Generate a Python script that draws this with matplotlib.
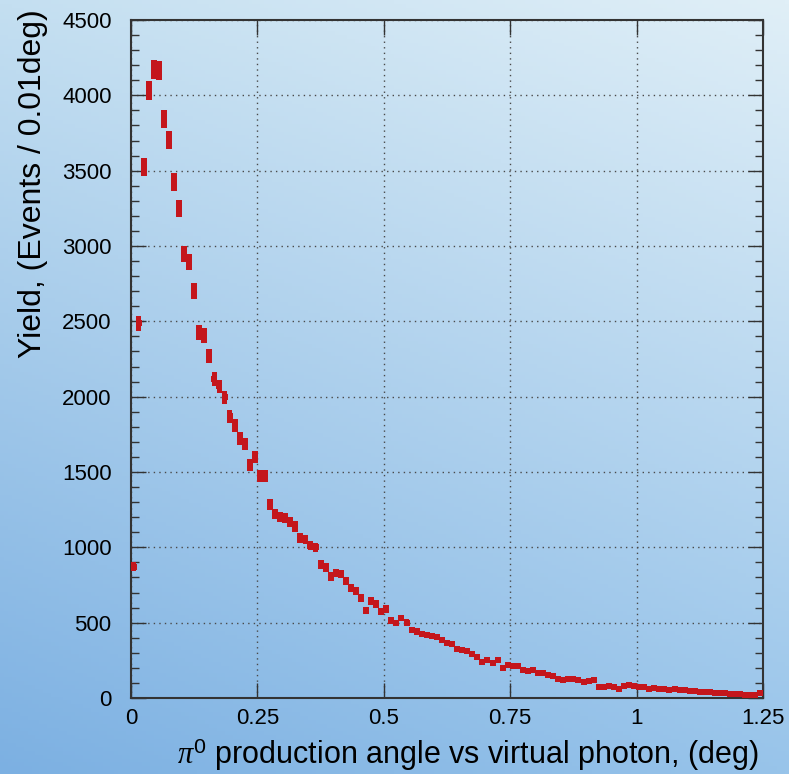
import numpy as np
import matplotlib.pyplot as plt

plt.rcParams['font.family'] = ['Liberation Sans', 'DejaVu Sans']
plt.rcParams['mathtext.fontset'] = 'custom'
plt.rcParams['mathtext.rm'] = 'Liberation Sans'
plt.rcParams['mathtext.it'] = 'Liberation Serif:italic'

# pi0 yield per 0.01 deg bin, 0 .. 1.25 deg
bin_width = 0.01
yield_counts = [
    870, 2487, 3527, 4030, 4170, 4165, 3842, 3703, 3425, 3250,
    2945, 2895, 2700, 2425, 2406, 2270, 2118, 2068, 1995, 1870,
    1810, 1721, 1684, 1545, 1598, 1472, 1475, 1286, 1221, 1201,
    1195, 1168, 1138, 1062, 1052, 1012, 999, 889, 866, 805,
    830, 823, 777, 728, 708, 664, 581, 644, 624, 574,
    591, 514, 498, 531, 501, 451, 441, 425, 418, 412,
    405, 388, 365, 358, 322, 319, 309, 295, 272, 239,
    252, 232, 252, 199, 219, 210, 210, 186, 181, 186,
    166, 168, 151, 143, 123, 119, 123, 129, 119, 106,
    113, 119, 70, 70, 80, 76, 60, 80, 86, 80,
    70, 72, 62, 68, 58, 62, 52, 58, 50, 55,
    45, 45, 42, 40, 38, 35, 32, 33, 28, 25,
    25, 22, 20, 22, 30,
]
x_ticks = [0, 0.25, 0.5, 0.75, 1, 1.25]
x_tick_labels = ['0', '0.25', '0.5', '0.75', '1', '1.25']
y_ticks = [0, 500, 1000, 1500, 2000, 2500, 3000, 3500, 4000, 4500]

counts = np.array(yield_counts, dtype=float)
centers = (np.arange(len(counts)) + 0.5) * bin_width
errors = np.sqrt(counts)

fig = plt.figure(figsize=(7.89, 7.74), dpi=100)

# blue slide-style backdrop: light at the top right, darker toward bottom left
bg = fig.add_axes([0, 0, 1, 1])
bg.set_axis_off()
tl = np.array([196, 223, 241]) / 255
tr = np.array([224, 239, 247]) / 255
bl = np.array([124, 176, 226]) / 255
br = np.array([152, 196, 234]) / 255
u = np.linspace(0, 1, 200)[None, :, None]
v = np.linspace(0, 1, 200)[:, None, None]
grad = (1 - v) * ((1 - u) * tl + u * tr) + v * ((1 - u) * bl + u * br)
bg.imshow(grad, aspect='auto', extent=[0, 1, 0, 1], origin='upper')
bg.set_xlim(0, 1)
bg.set_ylim(0, 1)

ax = fig.add_axes([131 / 789, 76 / 774, 632 / 789, 678 / 774])
ax.patch.set_alpha(0)

red = '#c4161c'
ax.bar(centers, 2 * errors, bottom=counts - errors, width=bin_width * 1.15,
       color=red, edgecolor='none', zorder=3)
ax.plot(centers, counts, linestyle='none', marker='s', markersize=4.0,
        color=red, markeredgewidth=0, zorder=3)

ax.set_xlim(0, 1.25)
ax.set_ylim(0, 4500)
ax.set_xticks(x_ticks)
ax.set_xticklabels(x_tick_labels)
ax.set_yticks(y_ticks)
ax.set_yticks(np.arange(0, 4501, 100), minor=True)

ax.grid(True, which='major', color='#4a4a4a', linestyle=(0, (1, 3)), linewidth=1.0, zorder=1)
for s in ax.spines.values():
    s.set_color('#333333')
    s.set_linewidth(1.5)

ax.tick_params(axis='both', which='both', direction='in', top=True, right=True,
               color='#333333', labelsize=16)
ax.tick_params(axis='both', which='major', length=11, width=1.0)
ax.tick_params(axis='y', which='minor', length=6, width=1.0)
ax.tick_params(axis='x', which='major', pad=7)
ax.tick_params(axis='y', which='major', pad=14)

ax.set_xlabel(r'$\mathit{\pi}^{0}$ production angle vs virtual photon, (deg)',
              fontsize=22)
ax.xaxis.set_label_coords(0.994, -0.056)
ax.xaxis.label.set_horizontalalignment('right')
ax.set_ylabel('Yield, (Events / 0.01deg)', fontsize=23)
ax.yaxis.set_label_coords(-0.143, 1.016)
ax.yaxis.label.set_verticalalignment('baseline')
ax.yaxis.label.set_horizontalalignment('right')

fig.savefig('out.png', dpi=100)
